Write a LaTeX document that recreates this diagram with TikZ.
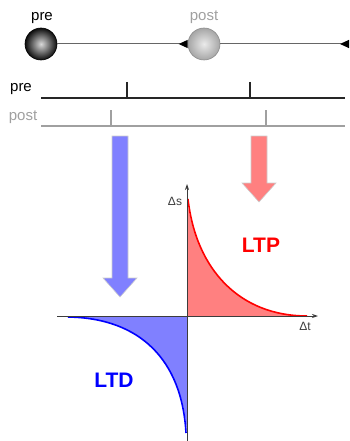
\documentclass[tikz,border=0pt]{standalone}
\usepackage{fontspec}
\setmainfont{Liberation Sans}
\usetikzlibrary{arrows.meta}
\definecolor{ltpfill}{RGB}{255,128,128}
\definecolor{ltdfill}{RGB}{128,128,255}
\definecolor{ltpline}{RGB}{255,0,0}
\definecolor{ltdline}{RGB}{0,0,255}
\definecolor{postgray}{RGB}{160,160,160}
\definecolor{axisgray}{RGB}{60,60,60}
\definecolor{edgegray}{RGB}{205,205,205}
\tikzset{
  lbl/.style={font=\fontsize{15}{17}\selectfont, inner sep=0pt},
  biglbl/.style={font=\fontsize{21}{24}\selectfont\bfseries, inner sep=0pt},
  axlbl/.style={font=\fontsize{12}{14}\selectfont, inner sep=0pt, text=axisgray},
  synline/.style={draw=black!60, line width=1pt, -{Triangle[reversed,length=9pt,width=8pt,black]}},
  axisline/.style={draw=axisgray, line width=0.8pt, -{Stealth[length=6pt,width=4pt]}},
  blockarrow/.style={draw=edgegray, line width=0.6pt},
}
\begin{document}
\begin{tikzpicture}[x=1pt,y=-1pt]
\useasboundingbox (0,0) rectangle (350,441);
% neurons
\node[circle, minimum size=32pt, inner sep=0pt, draw=black, line width=0.6pt, inner color=black!15, outer color=black!95] (preball) at (41,44) {};
\node[circle, minimum size=32pt, inner sep=0pt, draw=black!45, line width=0.6pt, inner color=black!8, outer color=black!35] (postball) at (204,44) {};
\node[lbl] (prelbl) at (42,18) {pre};
\node[lbl, text=postgray] (postlbl) at (204,17) {post};
\coordinate (lineend) at (349,44);
\draw[synline] (preball) -- (postball);
\draw[synline] (postball) -- (lineend);
% spike trains
\node[lbl] (pretrain) at (21,89) {pre};
\node[lbl, text=postgray] (posttrain) at (23,117) {post};
\draw[black!85, line width=2pt] (41,98) -- (345,98);
\draw[black!85, line width=2.6pt] (127,82) -- (127,98);
\draw[black!85, line width=2.6pt] (250,82) -- (250,98);
\draw[postgray, line width=2pt] (41,126) -- (345,126);
\draw[postgray, line width=2.6pt] (111,110) -- (111,126);
\draw[postgray, line width=2.6pt] (266,110) -- (266,126);
% block arrows
\fill[ltdfill, blockarrow] (112,136) -- (128,136) -- (128,278) -- (137,278) -- (120,297) -- (103,278) -- (112,278) -- cycle;
\fill[ltpfill, blockarrow] (251,136) -- (267,136) -- (267,183) -- (276,183) -- (259,202) -- (242,183) -- (251,183) -- cycle;
% curves
\fill[ltpfill] (187,199) .. controls (196,270) and (240,316) .. (307,316) -- (187,316) -- cycle;
\fill[ltdfill] (187,433) .. controls (182,360) and (140,318) .. (68,317) -- (187,316) -- cycle;
\draw[ltpline, line width=1.6pt] (188,199) .. controls (196,270) and (240,316) .. (307,316);
\draw[ltdline, line width=1.6pt] (186,433) .. controls (182,360) and (140,318) .. (68,317);
% axes
\coordinate (ybot) at (187,441);
\coordinate (ytop) at (187,184);
\coordinate (xleft) at (57,316);
\coordinate (xright) at (318,316);
\draw[axisline] (ybot) -- (ytop);
\draw[axisline] (xleft) -- (xright);
\node[axlbl] (ds) at (175,201) {Δs};
\node[axlbl] (dt) at (305,326) {Δt};
\node[biglbl, text=ltpline] (ltp) at (261,245) {LTP};
\node[biglbl, text=ltdline] (ltd) at (114,380) {LTD};
\end{tikzpicture}
\end{document}
